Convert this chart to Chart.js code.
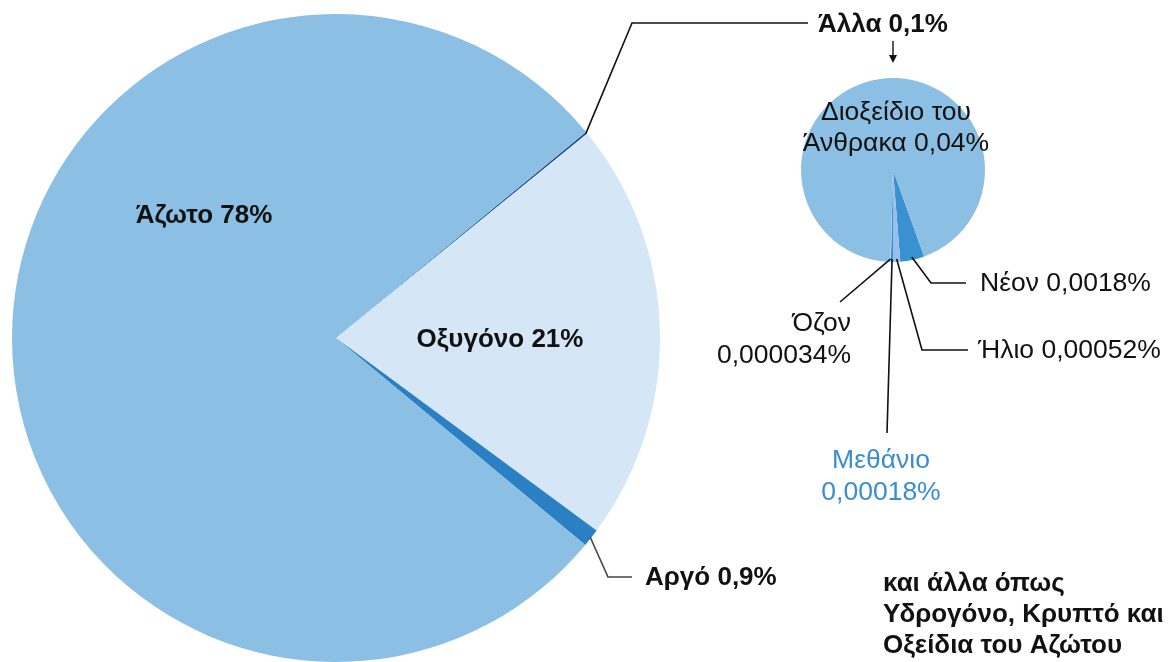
<!DOCTYPE html>
<html>
<head>
<meta charset="utf-8">
<title>Σύσταση του ατμοσφαιρικού αέρα</title>
<script src="https://cdn.jsdelivr.net/npm/chart.js@4.4.1/dist/chart.umd.min.js"></script>
<style>
  html, body { margin: 0; padding: 0; background: #fff; overflow: hidden; }
  #wrap { position: relative; width: 1173px; height: 662px; }
  #wrap canvas { position: absolute; left: 0; top: 0; }
</style>
</head>
<body>
<div id="wrap">
  <canvas id="airChart" width="1173" height="662"></canvas>
  <canvas id="traceChart" width="1173" height="662"></canvas>
</div>
<script>
// Air composition (% by volume)
const gasNames = ["Άλλα", "Οξυγόνο", "Αργό", "Άζωτο"];
const gasValues = [0.1, 21, 0.9, 78];
const gasValueText = ["0,1%", "21%", "0,9%", "78%"];

// What the "Άλλα" share is made of (% by volume)
const traceNames = ["Νέον", "Ήλιο", "Μεθάνιο", "Όζον", "Διοξείδιο του\nΆνθρακα"];
const traceValues = [0.0018, 0.00052, 0.00018, 0.000034, 0.04];
const traceValueText = ["0,0018%", "0,00052%", "0,00018%", "0,000034%", "0,04%"];

const footNote = ["και άλλα όπως", "Υδρογόνο, Κρυπτό και", "Οξείδια του Αζώτου"];

const FONT = '"Liberation Sans", Arial, Helvetica, sans-serif';
const BOLD = "bold 26px " + FONT;
const PLAIN = "26.5px " + FONT;

// label placement for each slice (same order as the data)
const gasLayout = [
  { x: 818, y: 25, align: "left", font: BOLD, leader: [[632, 23], [808, 23]], arrow: true },
  { x: 500, y: 340, align: "center", font: BOLD },
  { x: 645, y: 578, align: "left", font: BOLD, leader: [[608, 577], [632, 577]], grey: true },
  { x: 204, y: 216, align: "center", font: BOLD }
];

const traceLayout = [
  { x: 980, y: 284, align: "left", font: PLAIN, leader: [[931, 283], [966, 283]] },
  { x: 978, y: 351, align: "left", font: PLAIN, leader: [[922, 350], [968, 350]] },
  { x: 881, y: 461, align: "center", font: PLAIN, color: "#3a8dcf", leader: [[887, 433]], split: true, lineGap: 32 },
  { x: 851, y: 324, align: "right", font: PLAIN, leader: [[840, 302]], split: true, lineGap: 32 },
  { x: 896, y: 113, align: "center", font: PLAIN, lineGap: 31 }
];

function labelLines(name, value, lay) {
  if (lay.split) return [name, value];
  return (name + " " + value).split("\n");
}

function drawLeader(ctx, pts, grey) {
  ctx.save();
  ctx.strokeStyle = grey ? "#444" : "#111";
  ctx.lineWidth = 1.6;
  ctx.beginPath();
  ctx.moveTo(pts[0][0], pts[0][1]);
  for (let i = 1; i < pts.length; i++) ctx.lineTo(pts[i][0], pts[i][1]);
  ctx.stroke();
  ctx.restore();
}

// draws the slice names with their leader lines
function sliceLabels(names, values, layout, anchorInset) {
  return {
    id: "sliceLabels",
    afterDatasetsDraw(chart) {
      const ctx = chart.ctx;
      const arcs = chart.getDatasetMeta(0).data;
      arcs.forEach((arc, i) => {
        const lay = layout[i];
        const p = arc.getProps(["x", "y", "startAngle", "endAngle", "outerRadius"], true);
        const mid = (p.startAngle + p.endAngle) / 2;
        const r = p.outerRadius - anchorInset;
        const ax = p.x + Math.cos(mid) * r;
        const ay = p.y + Math.sin(mid) * r;
        if (lay.leader) drawLeader(ctx, [[ax, ay], ...lay.leader], lay.grey);

        const lines = labelLines(names[i], values[i], lay);
        ctx.save();
        ctx.font = lay.font;
        ctx.fillStyle = lay.color || "#111";
        ctx.textAlign = lay.align;
        ctx.textBaseline = "middle";
        lines.forEach((t, k) => ctx.fillText(t, lay.x, lay.y + k * (lay.lineGap || 30)));
        ctx.restore();

        if (lay.arrow) {
          // small arrow pointing down to the breakdown pie
          ctx.save();
          ctx.strokeStyle = "#111";
          ctx.fillStyle = "#111";
          ctx.lineWidth = 1.4;
          ctx.beginPath();
          ctx.moveTo(893, 41);
          ctx.lineTo(893, 57);
          ctx.stroke();
          ctx.beginPath();
          ctx.moveTo(889, 55);
          ctx.lineTo(897, 55);
          ctx.lineTo(893, 63);
          ctx.closePath();
          ctx.fill();
          ctx.restore();
        }
      });
    }
  };
}

const footNotePlugin = {
  id: "footNote",
  afterDraw(chart) {
    const ctx = chart.ctx;
    ctx.save();
    ctx.font = BOLD;
    ctx.fillStyle = "#111";
    ctx.textAlign = "left";
    ctx.textBaseline = "middle";
    footNote.forEach((t, k) => ctx.fillText(t, 883, 584 + k * 31));
    ctx.restore();
  }
};

const commonOptions = {
  responsive: false,
  animation: false,
  events: [],
  plugins: { legend: { display: false }, tooltip: { enabled: false } }
};

// main pie: air composition
new Chart(document.getElementById("airChart"), {
  type: "pie",
  data: {
    labels: gasNames,
    datasets: [{
      data: gasValues,
      backgroundColor: ["#1d4a8a", "#d5e7f6", "#2b7fc3", "#8bbfe3"],
      borderWidth: 0
    }]
  },
  options: {
    ...commonOptions,
    rotation: 50.5,
    layout: { padding: { left: 12, top: 14, right: 513, bottom: 0 } }
  },
  plugins: [sliceLabels(gasNames, gasValueText, gasLayout, 1), footNotePlugin]
});

// small pie: breakdown of the remaining gases
new Chart(document.getElementById("traceChart"), {
  type: "pie",
  data: {
    labels: traceNames,
    datasets: [{
      data: traceValues,
      backgroundColor: ["#3a91d1", "#9cbde9", "#3a91d1", "#c8dcf4", "#8bbfe3"],
      borderWidth: 0
    }]
  },
  options: {
    ...commonOptions,
    rotation: 160.2,
    layout: { padding: { left: 801, top: 78, right: 188, bottom: 400 } }
  },
  plugins: [sliceLabels(traceNames, traceValueText, traceLayout, 3)]
});
</script>
</body>
</html>
